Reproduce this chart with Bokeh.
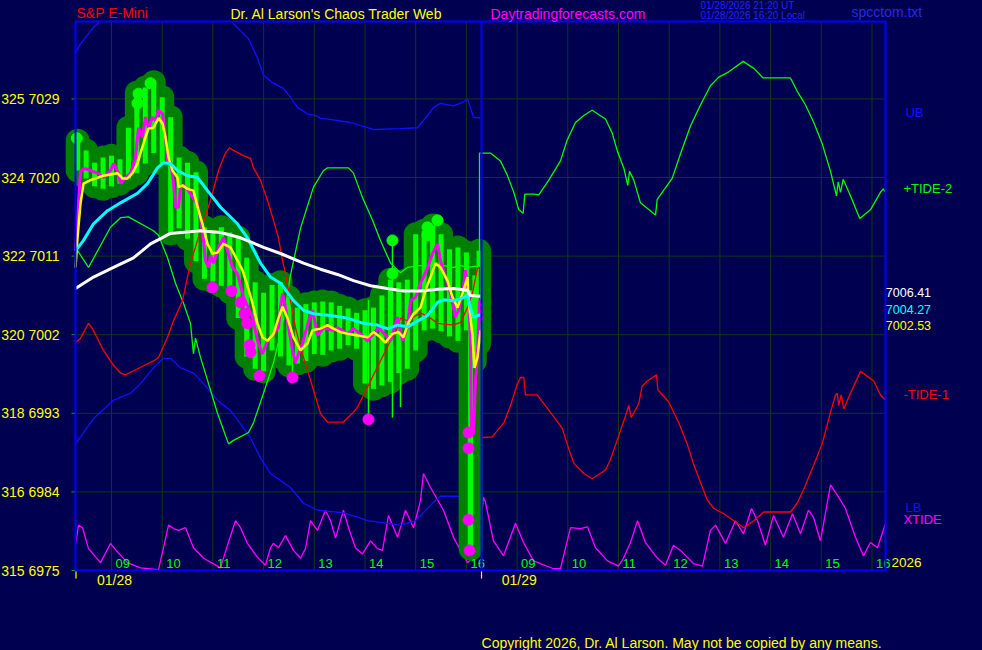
from bokeh.plotting import figure
from bokeh.models import Range1d
from bokeh.core.properties import value
from bokeh.embed import file_html
from bokeh.resources import INLINE
try:
    from bokeh.models import GlobalInlineStyleSheet
except Exception:
    GlobalInlineStyleSheet = None

NAN = float("nan")

# ---------------- data (x = trading minutes from 09:00 on 01/28; day 2 starts at 480) ----------------
price_ticks = [6975, 6984, 6993, 7002, 7011, 7020, 7029]
price_tick_labels = ["315  6975", "316  6984", "318  6993", "320  7002", "322  7011", "324  7020", "325  7029"]

hour_t = [0, 60, 120, 180, 240, 300, 360, 420, 480, 540, 600, 660, 720, 780, 840, 900]
hour_labels = ["09", "10", "11", "12", "13", "14", "15", "16", "09", "10", "11", "12", "13", "14", "15", "16"]

day_start_t = [-42.0, 437.9]
date_t = [3.55, 482.6]
date_labels = ["01/28", "01/29"]

# 10-minute price bars (high / low)
bar_t = [-40, -30, -20, -10, 0, 10, 20, 30, 40, 50, 60, 70, 80, 90, 100, 110, 120, 130, 140, 150,
         160, 170, 180, 190, 200, 210, 220, 230, 240, 250, 260, 270, 280, 290, 300, 310, 320, 330,
         340, 350, 360, 370, 380, 390, 400, 410, 420, 425, 430, 435]
bar_hi = [7024.2, 7023.1, 7021.7, 7022.3, 7022.5, 7022.1, 7025.7, 7029.7, 7030.3, 7030.9, 7029.2,
          7026.9, 7022.3, 7021.7, 7020.6, 7014.3, 7013.9, 7014.3, 7013.7, 7013.1, 7010.8, 7008.0,
          7006.8, 7007.7, 7008.0, 7006.3, 7005.1, 7005.5, 7005.7, 7005.8, 7005.7, 7005.3, 7005.0,
          7004.5, 7004.8, 7005.1, 7006.5, 7008.3, 7008.0, 7008.3, 7013.5, 7013.9, 7014.5, 7013.5,
          7011.8, 7012.0, 7011.4, 7007.1, 7008.8, 7011.6]
bar_lo = [7020.8, 7019.9, 7019.0, 7018.7, 7019.0, 7019.3, 7019.9, 7020.5, 7021.6, 7022.8, 7021.6,
          7013.6, 7014.2, 7013.0, 7010.4, 7008.4, 7008.1, 7007.6, 7006.9, 7003.9, 6999.5, 6998.1,
          6997.8, 7000.2, 6999.5, 6998.5, 6998.7, 6999.0, 6999.8, 6999.7, 7000.2, 7000.4, 7000.8,
          7000.4, 6996.4, 6995.8, 6996.2, 6996.6, 6997.6, 6998.1, 7000.2, 7002.5, 7002.7, 7002.4,
          7001.8, 7001.3, 7002.5, 6977.5, 6999.0, 7001.0]

spike_t = [214.2, 304.1, 332.5, 342.0, 422.5]
spike_hi = [7000.0, 7006.0, 7012.8, 7006.0, 6990.8]
spike_lo = [6997.1, 6992.3, 6992.5, 6993.7, 6977.3]

hi_dot_t = [-41.0, 30.8, 32.0, 46.2, 332.5, 332.5, 374.0, 374.0, 385.8]
hi_dot_p = [7024.5, 7028.5, 7029.6, 7030.8, 7012.8, 7009.0, 7013.4, 7014.3, 7015.1]
lo_dot_t = [119.5, 142.0, 152.7, 157.4, 160.9, 163.3, 164.5, 175.1, 214.2, 304.1, 422.5, 422.5, 422.5, 423.7]
lo_dot_p = [7007.4, 7007.0, 7005.7, 7004.4, 7003.3, 7000.8, 7000.0, 6997.3, 6997.1, 6992.3, 6990.8, 6989.0, 6980.8, 6977.3]

close_t = [-42.6, -36.7, -30.8, -24.9, -16.6, -9.5, -1.2, 2.4, 8.3, 10.7, 16.6, 22.5, 28.4, 32, 36.7,
           40.2, 43.8, 48.5, 52.1, 55.6, 60.4, 63.9, 66.3, 69.8, 73.4, 75.7, 79.3, 81.7, 85.2, 91.1,
           95.9, 101.8, 107.7, 111.2, 114.8, 117.2, 120.7, 126.6, 132.5, 137.3, 143.2, 149.1, 156.2,
           166.9, 172.8, 178.7, 184.6, 191.7, 197.6, 200, 202.4, 205.9, 209.5, 214.2, 217.7, 221.3,
           226, 233.1, 237.9, 243.8, 250.9, 261.5, 267.4, 279.3, 286.4, 294.6, 303, 310, 316, 321.9,
           330.2, 338.5, 344.4, 350.3, 353.8, 359.8, 365.7, 369.2, 374, 379.9, 385.8, 389.3, 395.3,
           401.2, 407.1, 410.6, 415.4, 418.9, 422.5, 424.8, 426, 428.4, 430.8, 433.1, 435.5, 437.9]
close_p = [7011.6, 7020.8, 7021.0, 7020.8, 7020.5, 7020.0, 7020.8, 7021.6, 7020.5, 7019.3, 7020.0,
           7020.5, 7022.3, 7025.7, 7024.6, 7026.9, 7025.7, 7026.9, 7026.5, 7027.7, 7027.3, 7024.6,
           7021.9, 7021.9, 7019.3, 7016.6, 7016.6, 7018.9, 7019.1, 7018.5, 7017.7, 7017.0, 7013.9,
           7010.5, 7009.7, 7011.1, 7010.2, 7012.0, 7013.1, 7011.6, 7009.7, 7009.0, 7006.3, 7004.0,
           7001.3, 6999.8, 7001.3, 7002.1, 7002.8, 7005.1, 7006.7, 7005.1, 7002.8, 7000.2, 6998.8,
           6999.8, 7001.0, 7003.5, 7004.8, 7001.9, 7002.8, 7002.5, 7002.8, 7002.1, 7002.7, 7002.1,
           7001.3, 7002.1, 7002.8, 7002.2, 7001.3, 7004.0, 7001.3, 7002.8, 7005.9, 7006.3, 7007.9,
           7008.6, 7009.7, 7011.3, 7012.4, 7010.5, 7008.6, 7006.7, 7004.0, 7004.8, 7006.7, 7009.4,
           7006.7, 7001.3, 6990.7, 6990.7, 6996.8, 6999.8, 7005.9, 7003.6]

fast_t = [-42.6, -40.2, -36.7, -33.1, -24.9, -9.5, 7.1, 13, 18.9, 24.9, 30.8, 34.3, 40.2, 43.8, 49.7,
          55.6, 60.4, 63.9, 67.5, 72.2, 78.1, 79.3, 84, 89.9, 97, 103, 107.7, 113.6, 119.5, 125.4,
          132.5, 140.8, 149.1, 155, 160.9, 166.9, 172.8, 178.7, 184.6, 191.7, 197.6, 202.4, 208.3,
          215.4, 223.7, 231.9, 237.9, 247.3, 255.6, 262.7, 271, 279.3, 291.1, 303, 310, 318.3, 324.2,
          332.5, 339.6, 345.5, 351.5, 357.4, 365.7, 371.6, 377.5, 383.4, 389.3, 397.6, 403.5, 409.5,
          415.4, 421.3, 422.5, 427.2, 429.6, 433.1, 436.7]
fast_p = [7009.7, 7013.1, 7017.0, 7019.3, 7019.7, 7020.2, 7020.5, 7019.9, 7019.9, 7020.5, 7021.6,
          7022.8, 7024.6, 7025.6, 7025.7, 7026.8, 7026.2, 7024.6, 7022.3, 7020.8, 7020.0, 7018.9,
          7019.1, 7018.7, 7018.5, 7016.2, 7014.7, 7012.4, 7011.3, 7011.4, 7012.4, 7012.0, 7010.5,
          7009.4, 7007.6, 7005.6, 7003.3, 7001.7, 7001.3, 7002.1, 7003.9, 7005.2, 7003.9, 7001.7,
          7000.2, 7001.0, 7002.5, 7002.7, 7003.1, 7002.7, 7002.3, 7002.1, 7001.9, 7001.7, 7002.3,
          7001.7, 7001.1, 7002.1, 7002.3, 7001.7, 7003.4, 7004.4, 7005.1, 7007.1, 7008.6, 7010.2,
          7009.7, 7008.2, 7006.3, 7005.1, 7006.7, 7008.6, 7005.9, 7001.9, 6998.2, 6999.4, 7002.5]

mid_t = [-42.6, -33.1, -21.3, -4.7, 10.7, 30.8, 42.6, 54.4, 61.5, 69.8, 78.1, 89.9, 101.8, 113.6, 129,
         149.1, 160.9, 176.3, 188.2, 200, 215.4, 227.2, 239, 259.2, 279.3, 298.2, 314.8, 326.6, 338.5,
         350.3, 357.4, 374, 385.8, 392.9, 404.7, 413, 421.3, 424.8, 428.4, 436.7]
mid_p = [7011.6, 7012.8, 7014.7, 7016.2, 7017.1, 7018.2, 7019.3, 7021.1, 7021.7, 7021.6, 7020.8,
         7020.2, 7020.0, 7018.5, 7016.6, 7014.7, 7013.1, 7010.2, 7008.6, 7007.9, 7005.9, 7004.8,
         7004.4, 7004.2, 7003.9, 7003.3, 7003.1, 7002.7, 7003.1, 7002.9, 7003.3, 7004.2, 7005.7,
         7006.0, 7005.9, 7006.1, 7006.5, 7005.1, 7004.0, 7004.3]

slow_t = [-42.6, -21.3, 2.4, 26, 46.2, 69.8, 105.3, 129, 152.7, 179.9, 200, 227.2, 247.3, 267.4,
          286.4, 306.5, 326.6, 345.5, 365.7, 385.8, 404.7, 421.3, 424.8, 436.7]
slow_p = [7007.3, 7008.6, 7009.7, 7010.8, 7012.4, 7013.6, 7013.9, 7013.7, 7013.1, 7012.0, 7011.3,
          7010.2, 7009.5, 7008.9, 7008.2, 7007.6, 7007.3, 7007.0, 7007.0, 7007.2, 7007.3, 7007.1,
          7006.5, 7006.4]

ub_t = [-42.6, -36.7, -28.4, -21.3, -13, NAN, 144.4, 162.1, 172.8, 179.9, 191.7, 203.5, 211.8, 220.1,
        232, 241.5, 247.3, 262.7, 282.8, 303, 310, 342, 362.1, 374, 381, 389.3, 404.7, 415.4, 421.3,
        424.8, 428.4, 436.7]
ub_p = [7034.3, 7035.3, 7036.3, 7037.2, 7037.9, NAN, 7037.6, 7035.9, 7033.7, 7031.7, 7030.8, 7030.2,
        7029.2, 7028.0, 7027.3, 7027.1, 7026.8, 7026.6, 7026.3, 7025.7, 7025.5, 7025.6, 7025.7,
        7027.1, 7028.0, 7028.5, 7028.2, 7028.6, 7029.0, 7028.0, 7026.9, 7026.8]

lb_t = [-42.6, -21.3, 2.4, 22.5, 34.3, 49.7, 61.5, 69.8, 81.7, 97, 108.9, 125.4, 140.8, 152.7, 164.5,
        176.3, 188.2, 200, 211.8, 227.2, 243.8, 274.5, 291.1, 303, 342, 359.8, 381, 389.3, 409.5,
        421.3, 436.7]
lb_p = [6989.5, 6992.4, 6994.5, 6995.3, 6996.4, 6998.2, 6999.3, 6999.3, 6998.2, 6997.6, 6996.4,
        6994.5, 6993.3, 6991.8, 6990.2, 6987.9, 6986.1, 6985.3, 6984.5, 6982.7, 6981.9, 6981.6,
        6981.1, 6980.7, 6980.2, 6980.7, 6982.8, 6983.5, 6983.5, 6983.1, 6983.4]

tide2_t = [-42.6, -27.2, -1.2, 10.7, 20.1, 49.7, 55.6, 66.3, 75.7, 85.2, 93.5, 97, 99.4, 105.3, 113.6,
           125.4, 138.5, 144.4, 162.1, 168, 179.9, 191.7, 202.4, 211.8, 223.7, 239, 250.9, 255.6,
           280.5, 286.4, 297, 308.9, 318.3, 330.2, 342, 350.3, 365.7, 392.9, 404.7, 413, 421.3, 435.5,
           435.5, 448.5, 460.3, 468.3, 476.1, 482, 487.2, 489.1, 499.8, 505.7, 517.5, 531.3, 539.3,
           549.1, 558.9, 568.8, 584.6, 592.5, 598.4, 606.2, 611, 613, 618.1, 626, 643.8, 645.8, 651.7,
           663.5, 673.3, 685.2, 697, 708.8, 718.7, 730.5, 747.6, 760.1, 771.2, 803.5, 811.4, 821.3,
           831.1, 841, 850.9, 858, 860, 862.7, 865.9, 874.5, 885.5, 898.2, 910, 913.2, 916]
tide2_p = [7012.0, 7009.7, 7014.3, 7015.4, 7015.5, 7013.9, 7013.4, 7010.8, 7007.9, 7005.6, 7003.3,
           6999.8, 7001.6, 6999.4, 6996.8, 6993.0, 6989.5, 6989.9, 6990.8, 6991.9, 6995.3, 6998.8,
           7003.1, 7008.8, 7014.2, 7018.9, 7020.8, 7021.1, 7021.1, 7020.5, 7017.7, 7015.1, 7012.8,
           7010.2, 7009.1, 7009.7, 7009.9, 7009.9, 7009.7, 7009.9, 7009.7, 7009.9, 7022.8, 7022.8,
           7021.9, 7020.3, 7018.3, 7016.3, 7015.9, 7018.1, 7018.1, 7018.0, 7019.7, 7021.9, 7024.3,
           7026.3, 7027.1, 7027.7, 7026.7, 7025.1, 7023.1, 7021.1, 7019.1, 7020.7, 7019.7, 7017.1,
           7015.7, 7017.5, 7018.3, 7019.9, 7022.7, 7025.9, 7028.3, 7030.5, 7031.5, 7032.1, 7033.3,
           7032.5, 7031.4, 7031.4, 7029.9, 7028.3, 7026.3, 7023.9, 7020.7, 7017.9, 7019.5, 7018.3,
           7019.8, 7017.9, 7015.3, 7016.3, 7018.3, 7018.7, 7018.3]

tide1_t = [-42.6, -36.7, -27.2, -22.5, -9.5, 2.4, 10.7, 16.6, 30.8, 49.7, 55.6, 66.3, 73.4, 84, 93.5,
           105.3, 117.2, 126.6, 134.9, 139.6, 144.4, 156.2, 164.5, 168, 176.3, 184.6, 191.7, 197.6,
           202.4, 205.9, 211.8, 217.7, 226, 235.5, 247.3, 255.6, 274.5, 285.2, 291.1, 303, 318.3,
           330.2, 338.5, 342, 350.3, 365.7, 377.5, 385.8, 404.7, 413, 421.3, 427.2, 433.1, 435.5,
           435.5, 450.5, 464.3, 472.2, 480.1, 484, 488, 489.9, 503.8, 519.5, 533.4, 541.2, 547.1,
           558.9, 568.8, 584.6, 590.5, 598.4, 608.3, 612.2, 615, 624, 628, 633.9, 645, 646.5, 659.5,
           671.4, 681.3, 689.1, 697, 705, 712.8, 724.6, 736.4, 748.3, 760.1, 771.9, 803.5, 811.4,
           819.3, 831.1, 841, 850.9, 856.8, 858.8, 860.7, 863.5, 866.6, 874.5, 886.4, 902.1, 910, 916]
tide1_p = [7001.1, 7001.6, 7003.3, 7002.7, 7000.2, 6998.5, 6997.6, 6997.4, 6998.1, 6999.0, 6999.4,
           7001.7, 7003.6, 7005.9, 7010.2, 7013.9, 7017.4, 7020.8, 7022.8, 7023.4, 7023.1, 7022.5,
           7022.2, 7021.1, 7019.7, 7017.4, 7015.1, 7013.1, 7010.5, 7009.0, 7005.9, 7002.8, 6999.8,
           6996.8, 6993.0, 6992.0, 6992.0, 6993.0, 6993.7, 6996.0, 6999.0, 7001.3, 7002.8, 7003.9,
           7003.6, 7004.5, 7003.9, 7003.3, 7003.1, 7003.4, 7005.1, 7006.8, 7009.6, 7009.7, 6990.2,
           6990.3, 6991.9, 6993.9, 6996.3, 6997.1, 6997.1, 6995.1, 6995.1, 6993.1, 6991.3, 6988.9,
           6987.3, 6986.1, 6985.5, 6986.5, 6987.7, 6989.9, 6992.7, 6993.9, 6992.5, 6994.1, 6996.1,
           6996.7, 6997.4, 6995.7, 6994.3, 6991.9, 6989.5, 6987.1, 6985.1, 6983.1, 6982.1, 6981.5,
           6980.7, 6979.9, 6980.7, 6981.7, 6981.7, 6982.7, 6984.3, 6987.1, 6989.5, 6993.1, 6995.1,
           6995.3, 6993.9, 6995.1, 6993.5, 6995.3, 6997.8, 6996.7, 6995.1, 6994.5]

xtide_t = [-42.6, -39.1, -34.3, -27.2, -13, -1.2, 7.1, 18.9, 34.3, 55.6, 61.5, 67.5, 73.4, 79.3, 87.6,
           97, 108.9, 125.4, 129, 137.3, 146.7, 152.7, 160.9, 172.8, 182.2, 188.2, 191.7, 197.6,
           205.9, 215.4, 223.7, 229.6, 235.5, 243.8, 253.2, 259.2, 265.1, 274.5, 280.5, 288.7, 297,
           306.5, 314.8, 320.7, 327.8, 338.5, 347.9, 357.4, 365.7, 369.2, 377.5, 392.9, 404.7, 421.3,
           428.4, 436.7, 440.2, 442.6, 452, 463.9, 478.1, 487.6, 499.4, 523.1, 531.3, 543.2, 555,
           563.3, 572.8, 587, 600, 605.9, 614.2, 622.5, 631.9, 646.1, 655.6, 665.1, 673.3, 688.7,
           699.4, 708.8, 714.8, 726.6, 738.4, 747.9, 757.4, 764.5, 773.9, 783.4, 795.2, 805.9, 815.4,
           824.8, 830.7, 839, 850.9, 859.2, 868.6, 880.4, 889.9, 898.2, 906.5, 916]
xtide_p = [6977.9, 6980.2, 6979.9, 6977.5, 6975.9, 6978.1, 6977.1, 6975.9, 6975.3, 6975.1, 6977.6,
           6980.2, 6979.8, 6979.6, 6979.9, 6977.6, 6976.4, 6975.5, 6975.3, 6977.9, 6980.7, 6979.9,
           6978.1, 6976.5, 6975.6, 6977.6, 6978.1, 6977.6, 6979.0, 6977.3, 6976.4, 6977.5, 6980.7,
           6979.6, 6981.9, 6980.7, 6978.7, 6981.9, 6979.9, 6977.6, 6976.9, 6978.4, 6977.5, 6977.3,
           6981.3, 6978.8, 6981.9, 6979.9, 6983.0, 6986.1, 6984.5, 6981.9, 6978.8, 6975.9, 6976.5,
           6979.9, 6983.4, 6982.8, 6978.4, 6976.7, 6980.4, 6978.2, 6976.1, 6975.2, 6975.2, 6979.9,
           6979.8, 6980.0, 6977.6, 6976.1, 6975.5, 6976.4, 6978.2, 6980.7, 6978.2, 6976.4, 6975.6,
           6977.9, 6977.3, 6975.8, 6975.5, 6979.6, 6980.2, 6978.1, 6980.7, 6979.2, 6982.1, 6980.7,
           6977.9, 6981.3, 6978.8, 6981.5, 6979.2, 6981.9, 6981.1, 6978.4, 6984.8, 6983.6, 6982.1,
           6978.8, 6976.7, 6978.2, 6977.6, 6980.4]

last_values = ["7006.41", "7004.27", "7002.53"]

# ---------------- scale & layout ----------------
BG = "#000050"
GRID = "#0c3a12"
FONT = "Liberation Sans"
MPP = 60.0 / 50.7          # minutes per screen pixel
PPP = 1.0 / 8.733          # price points per screen pixel
PLOT_L, PLOT_R = -42.6, 916.0
PLOT_B, PLOT_T = 6975.0, 6975.0 + 549 * PPP
SEP_T = 437.9

p = figure(width=982, height=650, output_backend="svg", toolbar_location=None,
           x_range=Range1d(-111 * MPP, 871 * MPP), y_range=Range1d(6975 - 80 * PPP, 6975 + 570 * PPP),
           x_axis_location=None, y_axis_location=None, min_border=0,
           background_fill_color=BG, border_fill_color=BG, outline_line_color=None)
p.min_border_left = p.min_border_right = p.min_border_top = p.min_border_bottom = 0
p.grid.visible = False

if GlobalInlineStyleSheet is not None:
    p.stylesheets = [GlobalInlineStyleSheet(css="body { background-color: #000050; }")]

grid_y = price_ticks[1:]
# grid
p.segment(x0=hour_t, y0=[PLOT_B] * len(hour_t), x1=hour_t, y1=[PLOT_T] * len(hour_t),
          line_color=GRID, line_width=1)
p.segment(x0=[PLOT_L] * len(grid_y), y0=grid_y, x1=[PLOT_R] * len(grid_y), y1=grid_y,
          line_color=GRID, line_width=1)

# price axis ticks and labels (left)
p.segment(x0=[PLOT_L - 4 * MPP] * len(price_ticks), y0=price_ticks,
          x1=[PLOT_L] * len(price_ticks), y1=price_ticks, line_color="#00B000", line_width=1)
p.text(x=[PLOT_L - 12 * MPP] * len(price_ticks), y=price_ticks, text=price_tick_labels,
       text_color="#FFFF00", text_font=value(FONT), text_font_size="14px",
       text_align="right", text_baseline="middle")

# day ticks and dates (bottom)
p.segment(x0=day_start_t, y0=[PLOT_B] * 2, x1=day_start_t, y1=[PLOT_B - 8 * PPP] * 2,
          line_color="#FFFF00", line_width=1.2)
p.text(x=date_t, y=[PLOT_B - 9 * PPP] * 2, text=date_labels, text_color="#FFFF00",
       text_font=value(FONT), text_font_size="14px", text_align="center", text_baseline="middle")

# tide / band lines
p.line(xtide_t, xtide_p, line_color="#FF00FF", line_width=1.3)
p.line(lb_t, lb_p, line_color="#1010FF", line_width=1.3)
p.line(ub_t, ub_p, line_color="#1010FF", line_width=1.3)

# price bars: dark halo + light bars
p.segment(x0=bar_t, y0=bar_lo, x1=bar_t, y1=bar_hi, line_color="#008000", line_width=24, line_cap="round")
p.segment(x0=bar_t, y0=bar_lo, x1=bar_t, y1=bar_hi, line_color="#00FF00", line_width=5)
p.segment(x0=spike_t, y0=spike_lo, x1=spike_t, y1=spike_hi, line_color="#00FF00", line_width=1.5)

p.line(tide2_t, tide2_p, line_color="#00FF00", line_width=1.3)
p.line(tide1_t, tide1_p, line_color="#FF0000", line_width=1.3)

# price line and averages
p.line(close_t, close_p, line_color="#FF00FF", line_width=3)
p.line(fast_t, fast_p, line_color="#FFFF00", line_width=2.5)
p.line(mid_t, mid_p, line_color="#00FFFF", line_width=3)
p.line(slow_t, slow_p, line_color="#FFFFFF", line_width=3)

# pivot markers
p.scatter(hi_dot_t, hi_dot_p, size=11, color="#00FF00")
p.scatter(lo_dot_t, lo_dot_p, size=11, color="#FF00FF")

# hour labels inside the plot
p.text(x=hour_t, y=[6975.8] * len(hour_t), text=hour_labels, text_color="#00FF00",
       text_font=value(FONT), text_font_size="13px", text_baseline="middle", text_align="left",
       x_offset=4)

# separator and plot border
p.segment(x0=[SEP_T], y0=[PLOT_B], x1=[SEP_T], y1=[PLOT_T], line_color="#0000FF", line_width=2)
p.quad(left=[PLOT_L], right=[PLOT_R], bottom=[PLOT_B], top=[PLOT_T], fill_color=None,
       line_color="#0000FF", line_width=2)


def lab(x, y, text, color, size="14px"):
    p.text(x=[x], y=[y], text=[text], text_color=color, text_font=value(FONT),
           text_font_size=size, text_baseline="middle", text_align="left")


# header
lab(-41.4, 7038.84, "S&P E-Mini", "#FF0000")
lab(140.8, 7038.78, "Dr. Al Larson's Chaos Trader Web", "#FFFF00")
lab(448.5, 7038.78, "Daytradingforecasts.com", "#FF00FF")
lab(697.0, 7039.64, "01/28/2026 21:20  UT", "#2020FF", "10px")
lab(697.0, 7038.55, "01/28/2026 16:20  Local", "#2020FF", "10px")
lab(875.7, 7038.9, "spcctom.txt", "#2828E8")

# right-hand legend / values
lab(939.6, 7027.39, "UB", "#1010FF", "13px")
lab(937.2, 7018.74, "+TIDE-2", "#00FF00", "13px")
lab(916.4, 7006.89, last_values[0], "#FFFFFF", "12.5px")
lab(916.4, 7004.83, last_values[1], "#00FFFF", "12.5px")
lab(916.4, 7003.0, last_values[2], "#FFFF00", "12.5px")
lab(937.2, 6995.1, "-TIDE-1", "#FF0000", "13px")
lab(939.6, 6982.27, "LB", "#1010FF", "13px")
lab(937.2, 6980.84, "XTIDE", "#FF00FF", "13px")
lab(923.1, 6975.97, "2026", "#FFFF00", "13.5px")

# footer
lab(437.9, 6966.7, "Copyright 2026, Dr. Al Larson. May not be copied by any means.", "#FFFF00")

open("out.html", "w").write(file_html(p, INLINE))
